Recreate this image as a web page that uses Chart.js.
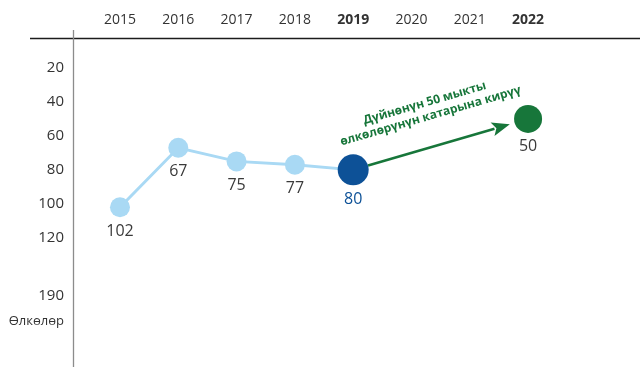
<!DOCTYPE html>
<html>
<head>
<meta charset="utf-8">
<script src="https://cdn.jsdelivr.net/npm/chart.js@4/dist/chart.umd.min.js"></script>
<style>
  html, body { margin: 0; padding: 0; background: #fff; overflow: hidden; }
  #wrap { position: relative; width: 640px; height: 367px; }
  #wrap canvas { display: block; }
</style>
</head>
<body>
<div id="wrap"><canvas id="rankChart"></canvas></div>
<script>
// Data
const years = [2015, 2016, 2017, 2018, 2019, 2020, 2021, 2022];
const boldYears = [2019, 2022];
const rankYears = [2015, 2016, 2017, 2018, 2019];
const ranks = [102, 67, 75, 77, 80];
const targetYear = 2022;
const targetRank = 50;
const targetText = ["Дүйнөнүн 50 мыкты", "өлкөлөрүнүн катарына кирүү"];
// broken axis: last two ticks sit closer than their labels would suggest
const yTickValues = [20, 40, 60, 80, 100, 120, 154, 169];
const yTickLabels = ["20", "40", "60", "80", "100", "120", "190", "Өлкөлөр"];

const FONT = "'Open Sans', 'Noto Sans', sans-serif";
const LIGHT_BLUE = "#a9d9f4";
const DARK_BLUE = "#0d5197";
const GREEN = "#17763a";
const TEXT = "#3a3a3a";

const lastIdx = ranks.length - 1;

// keep the axes from reserving extra room for their edge labels
function noPadding(s) {
  s.paddingTop = 0;
  s.paddingBottom = 0;
  s.paddingLeft = 0;
  s.paddingRight = 0;
}

// draws the two axis lines with their small overhangs
const axisLines = {
  id: "axisLines",
  beforeDraw(chart) {
    const { ctx, chartArea } = chart;
    ctx.save();
    ctx.lineWidth = 1.3;
    ctx.strokeStyle = "#1c1c1c";
    ctx.beginPath();
    ctx.moveTo(30, chartArea.top + 0.5);
    ctx.lineTo(chartArea.right, chartArea.top + 0.5);
    ctx.stroke();
    ctx.strokeStyle = "#8c8c8c";
    ctx.beginPath();
    ctx.moveTo(chartArea.left + 0.5, 30);
    ctx.lineTo(chartArea.left + 0.5, chartArea.bottom);
    ctx.stroke();
    ctx.restore();
  },
};

// arrow from the 2019 point to the 2022 target, with rotated caption
const targetArrow = {
  id: "targetArrow",
  afterDatasetsDraw(chart) {
    const { ctx } = chart;
    const p1 = chart.getDatasetMeta(0).data[lastIdx];
    const p2 = chart.getDatasetMeta(1).data[0];
    if (!p1 || !p2) return;
    const r1 = p1.options.radius;
    const r2 = p2.options.radius;
    const dx = p2.x - p1.x;
    const dy = p2.y - p1.y;
    const len = Math.hypot(dx, dy);
    const ux = dx / len, uy = dy / len;
    const sx = p1.x + ux * r1, sy = p1.y + uy * r1;
    const tx = p2.x - ux * (r2 + 5), ty = p2.y - uy * (r2 + 5);
    const head = 18, half = 7;
    const bx = tx - ux * head, by = ty - uy * head;

    ctx.save();
    ctx.strokeStyle = GREEN;
    ctx.fillStyle = GREEN;
    ctx.lineWidth = 2.5;
    ctx.beginPath();
    ctx.moveTo(sx, sy);
    ctx.lineTo(bx + ux * 2, by + uy * 2);
    ctx.stroke();
    ctx.beginPath();
    ctx.moveTo(tx, ty);
    ctx.lineTo(bx - uy * half, by + ux * half);
    ctx.lineTo(bx + ux * 4, by + uy * 4);
    ctx.lineTo(bx + uy * half, by - ux * half);
    ctx.closePath();
    ctx.fill();

    const mx = (sx + tx) / 2, my = (sy + ty) / 2;
    ctx.translate(mx, my);
    ctx.rotate(Math.atan2(dy, dx));
    ctx.font = "bold 12px " + FONT;
    ctx.textAlign = "center";
    ctx.textBaseline = "middle";
    ctx.fillText(targetText[0], -2, -44);
    ctx.fillText(targetText[1], 0, -30);
    ctx.restore();
  },
};

// value labels under each point
const pointLabels = {
  id: "pointLabels",
  afterDatasetsDraw(chart) {
    const { ctx } = chart;
    ctx.save();
    ctx.font = "500 16px " + FONT;
    ctx.textAlign = "center";
    ctx.textBaseline = "middle";
    chart.data.datasets.forEach((ds, di) => {
      chart.getDatasetMeta(di).data.forEach((pt, i) => {
        let color = TEXT;
        if (di === 0 && i === lastIdx) color = DARK_BLUE;
        ctx.fillStyle = color;
        ctx.fillText(String(ds.data[i].y), pt.x, pt.y + pt.options.radius + 14);
      });
    });
    ctx.restore();
  },
};

new Chart(document.getElementById("rankChart"), {
  type: "line",
  data: {
    datasets: [
      {
        data: rankYears.map((yr, i) => ({ x: yr, y: ranks[i] })),
        borderColor: LIGHT_BLUE,
        borderWidth: 3,
        pointRadius: (c) => (c.dataIndex === lastIdx ? 15.5 : 10),
        pointBackgroundColor: (c) => (c.dataIndex === lastIdx ? DARK_BLUE : LIGHT_BLUE),
        pointBorderWidth: 0,
        tension: 0,
      },
      {
        data: [{ x: targetYear, y: targetRank }],
        showLine: false,
        pointRadius: 14,
        pointBackgroundColor: GREEN,
        pointBorderWidth: 0,
      },
    ],
  },
  options: {
    responsive: true,
    maintainAspectRatio: false,
    animation: false,
    layout: { padding: 0, autoPadding: false },
    plugins: { legend: { display: false }, tooltip: { enabled: false } },
    scales: {
      x: {
        type: "linear",
        position: "top",
        min: 2014.194,
        max: 2023.92,
        grid: { display: false, drawTicks: false },
        border: { display: false },
        afterBuildTicks: (s) => { s.ticks = years.map((v) => ({ value: v })); },
        afterFit: (s) => { s.height = 38; noPadding(s); },
        ticks: {
          padding: 10,
          color: "#333",
          callback: (v) => String(v),
          font: (c) => ({
            family: FONT,
            size: 14,
            weight: c.tick && boldYears.includes(c.tick.value) ? "bold" : "normal",
          }),
        },
      },
      y: {
        type: "linear",
        reverse: true,
        min: 2.4,
        max: 196,
        grid: { display: false, drawTicks: false },
        border: { display: false },
        afterBuildTicks: (s) => { s.ticks = yTickValues.map((v) => ({ value: v })); },
        afterFit: (s) => { s.width = 73; noPadding(s); },
        ticks: {
          padding: 9,
          color: "#333",
          font: (c) => ({
            family: FONT,
            size: c.index === yTickLabels.length - 1 ? 13 : 15,
            weight: "500",
          }),
          callback: (v, i) => yTickLabels[i],
        },
      },
    },
  },
  plugins: [axisLines, targetArrow, pointLabels],
});
</script>
</body>
</html>
